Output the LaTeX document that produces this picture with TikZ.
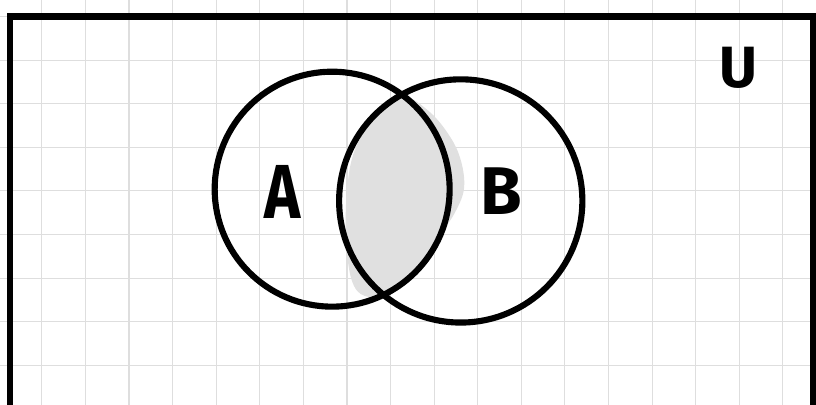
\documentclass[tikz,border=0pt]{standalone}
\usepackage{fontspec}
\setsansfont{Fira Sans}
\definecolor{gridgray}{RGB}{222,222,222}
\definecolor{shadegray}{RGB}{224,224,224}

\tikzset{
  gridline/.style={gridgray, line width=0.7pt},
  frameline/.style={black, line width=4pt},
  setcircle/.style={circle, draw=black, line width=4pt, inner sep=0pt},
  setlabel/.style={inner sep=0pt, anchor=center}
}

\begin{document}
\begin{tikzpicture}

  \useasboundingbox (0,0) rectangle (18.72,9.27);
  \clip (0,0) rectangle (18.72,9.27);
  \fill[white] (0,0) rectangle (18.72,9.27);

  % squared paper
  \draw[gridline, xshift=-0.04cm, yshift=-0.11cm] (-1,-1) grid (20,11);

  % universe
  \draw[frameline] (0.23,-0.6) -- (0.23,8.89) -- (18.65,8.89) -- (18.65,-0.6);

  % shaded intersection, scribbled by hand
  \fill[shadegray] plot[smooth cycle, tension=0.6] coordinates {
    (9.17,7.09) (9.86,6.70) (10.37,6.06) (10.60,5.48) (10.64,4.91)
    (10.44,4.40) (10.14,3.94) (9.63,3.19) (8.94,2.55) (8.37,2.48)
    (8.07,2.84) (7.94,3.76) (7.96,4.91) (8.14,5.83) (8.60,6.61)};

  % the two sets
  \node[setcircle, minimum size=5.39cm] (setA) at (7.62,4.93) {};
  \node[setcircle, minimum size=5.58cm] (setB) at (10.57,4.66) {};

  % labels
  \node[setlabel, font=\sffamily\bfseries\fontsize{50}{50}\selectfont, xscale=0.8] (lblA) at (6.49,4.86) {A};
  \node[setlabel, font=\sffamily\bfseries\fontsize{44}{44}\selectfont] (lblB) at (11.49,4.89) {B};
  \node[setlabel, font=\sffamily\bfseries\fontsize{38}{38}\selectfont] (lblU) at (16.93,7.71) {U};

\end{tikzpicture}
\end{document}
